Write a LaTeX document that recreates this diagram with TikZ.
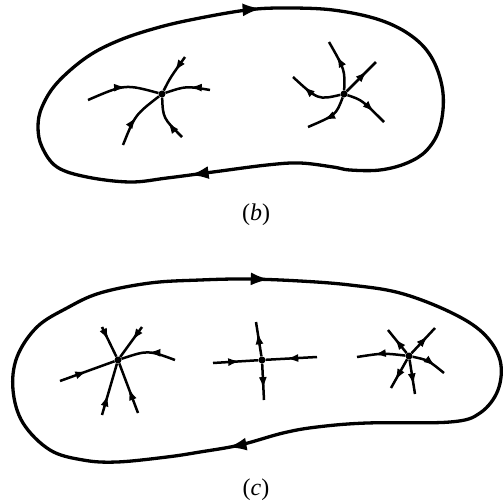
\documentclass[tikz,border=0pt]{standalone}
\usepackage{fontspec}
\setmainfont{Liberation Serif}
\usetikzlibrary{decorations.markings,arrows.meta}
\begin{document}
\begin{tikzpicture}[x=1pt,y=-1pt,
  bigtip/.tip={Latex[length=19pt,width=13pt]},
  smalltip/.tip={Latex[length=12pt,width=8pt]},
  orbit/.style 2 args={line width=3.3pt,
    decoration={markings,
      mark=at position #1 with {\arrow{bigtip}},
      mark=at position #2 with {\arrow{bigtip}}},
    postaction={decorate}},
  branch/.style={line width=2.5pt,
    decoration={markings, mark=at position #1 with {\arrow{smalltip}}},
    postaction={decorate}},
  branch/.default=0.55,
  dot/.style={circle, fill, inner sep=0pt, minimum size=7pt},
  caption/.style={font=\fontsize{24}{28}\selectfont}]
\useasboundingbox (0,0) rectangle (504,504);

% ---------- (b) ----------
\draw[orbit={0.015}{0.553}] plot[smooth cycle, tension=0.6] coordinates {
 (200,18) (247,10) (283,8) (333,10) (380,20) (413,37) (433,60) (443,93)
 (440,127) (427,150) (407,163) (380,170) (350,170) (333,167) (300,163)
 (267,165) (213,172) (167,178) (130,182) (87,177) (57,167) (42,147)
 (38,127) (42,107) (57,83) (87,57) (120,40) (160,27)};

\node[dot] (n1) at (162,94) {};
\coordinate (n1L) at (88,100);
\coordinate (n1R) at (210,90);
\coordinate (n1UR) at (185,57);
\coordinate (n1DL) at (123,145);
\coordinate (n1D) at (182,137);
\draw[branch=0.55] (n1L) .. controls (125,84) .. (n1);
\draw[branch=0.45] (n1R) .. controls (186,86) .. (n1);
\draw[branch=0.45] (n1UR) .. controls (170,78) .. (n1);
\draw[branch=0.5] (n1DL) .. controls (135,115) .. (n1);
\draw[branch=0.45] (n1D) .. controls (163,118) .. (n1);

\node[dot] (n2) at (344,94) {};
\coordinate (n2U) at (329,42);
\coordinate (n2L) at (293,77);
\coordinate (n2DL) at (308,127);
\coordinate (n2UR) at (376,62);
\coordinate (n2DR) at (384,122);
\draw[branch=0.7] (n2) .. controls (345,70) .. (n2U);
\draw[branch=0.75] (n2) .. controls (318,100) .. (n2L);
\draw[branch=0.65] (n2) .. controls (336,115) .. (n2DL);
\draw[branch=0.7] (n2) .. controls (362,76) .. (n2UR);
\draw[branch=0.7] (n2) .. controls (362,100) .. (n2DR);

\node[caption] (capb) at (256,215) {(\textit{b})};

% ---------- (c) ----------
\draw[orbit={0.02}{0.523}] plot[smooth cycle, tension=0.6] coordinates {
 (200,280) (247,279) (300,281) (350,285) (400,293) (450,312) (483,333)
 (500,360) (498,390) (480,413) (450,422) (367,423) (317,427) (283,433)
 (240,445) (200,452) (167,457) (117,462) (83,460) (50,450) (23,423)
 (13,390) (17,357) (37,327) (67,308) (100,293) (150,283)};

\node[dot] (m1) at (118,360) {};
\coordinate (m1UL) at (102,327);
\coordinate (m1UR) at (142,327);
\coordinate (m1R) at (175,360);
\coordinate (m1L) at (60,381);
\coordinate (m1DL) at (102,415);
\coordinate (m1DR) at (138,413);
\draw[branch=0.45] (m1UL) -- (m1);
\draw[branch=0.45] (m1UR) -- (m1);
\draw[branch=0.5] (m1R) .. controls (148,350) .. (m1);
\draw[branch=0.5] (m1L) -- (m1);
\draw[branch=0.4] (m1DL) -- (m1);
\draw[branch=0.5] (m1DR) -- (m1);

\node[dot] (m2) at (262,360) {};
\coordinate (m2U) at (256,322);
\coordinate (m2D) at (264,400);
\coordinate (m2L) at (213,363);
\coordinate (m2R) at (317,357);
\draw[branch=0.7] (m2) -- (m2U);
\draw[branch=0.7] (m2) -- (m2D);
\draw[branch=0.6] (m2L) -- (m2);
\draw[branch=0.6] (m2R) -- (m2);

\node[dot] (m3) at (409,356) {};
\coordinate (m3L) at (357,357);
\coordinate (m3UL) at (388,330);
\coordinate (m3UR) at (435,328);
\coordinate (m3R) at (444,373);
\coordinate (m3DL) at (391,388);
\coordinate (m3D) at (415,394);
\draw[branch=0.65] (m3) .. controls (383,353) .. (m3L);
\draw[branch=0.65] (m3) -- (m3UL);
\draw[branch=0.7] (m3) -- (m3UR);
\draw[branch=0.7] (m3) .. controls (428,360) .. (m3R);
\draw[branch=0.75] (m3) -- (m3DL);
\draw[branch=0.75] (m3) -- (m3D);

\node[caption] (capc) at (256,490) {(\textit{c})};
\end{tikzpicture}
\end{document}
